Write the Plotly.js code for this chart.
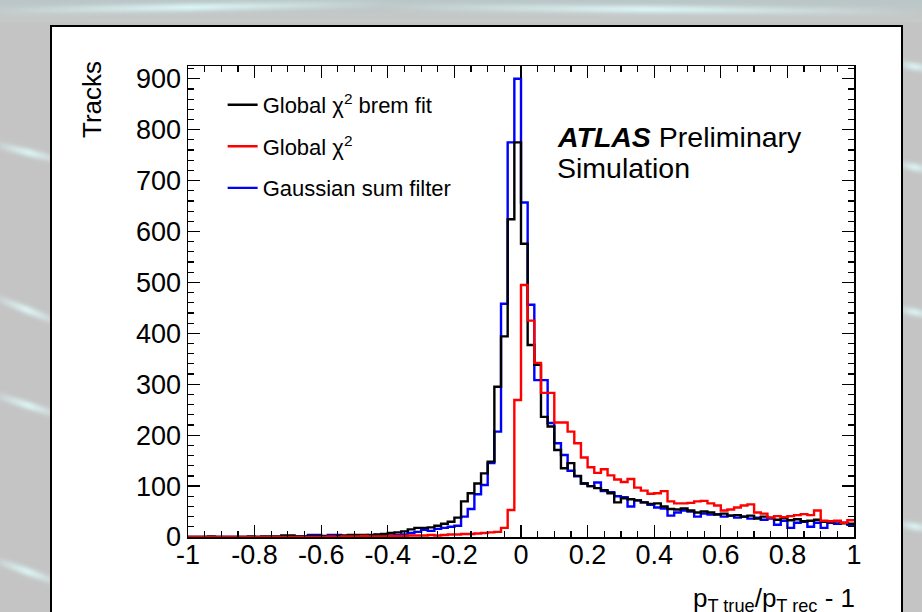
<!DOCTYPE html>
<html>
<head>
<meta charset="utf-8">
<script src="https://cdn.plot.ly/plotly-3.0.1.min.js"></script>
<style>
  html, body { margin:0; padding:0; width:922px; height:612px; overflow:hidden; background:#c4c4c4; }
  #bg { position:absolute; left:0; top:0; width:922px; height:612px; overflow:hidden; }
  .streak { position:absolute; height:6px; background:linear-gradient(90deg, rgba(220,255,255,0), rgba(225,255,255,0.95), rgba(220,255,255,0)); filter:blur(2px); transform-origin:left center; }
  #frame { position:absolute; left:50px; top:25px; width:849px; height:600px; background:#fff; border:2px solid #000; }
  #chart { position:absolute; left:0; top:0; width:922px; height:612px; }
</style>
</head>
<body>
<div id="bg">
  <div style="position:absolute;left:0;top:0;width:922px;height:22px;background:linear-gradient(180deg,#b9c6c7,#c8c8c8);"></div>
  <div class="streak" style="left:-20px;top:8px;width:420px;transform:rotate(-1deg);"></div>
  <div class="streak" style="left:380px;top:4px;width:540px;transform:rotate(0.5deg);"></div>
  <div class="streak" style="left:-10px;top:140px;width:80px;transform:rotate(14deg);"></div>
  <div class="streak" style="left:-10px;top:292px;width:80px;transform:rotate(22deg);"></div>
  <div class="streak" style="left:-10px;top:390px;width:80px;transform:rotate(18deg);"></div>
  <div class="streak" style="left:-10px;top:555px;width:80px;transform:rotate(20deg);"></div>
  <div class="streak" style="left:895px;top:60px;width:40px;transform:rotate(10deg);"></div>
  <div class="streak" style="left:895px;top:160px;width:40px;transform:rotate(12deg);"></div>
  <div class="streak" style="left:895px;top:305px;width:40px;transform:rotate(12deg);"></div>
  <div class="streak" style="left:895px;top:520px;width:40px;transform:rotate(10deg);"></div>
</div>
<div id="frame"></div>
<div id="chart"></div>
<script>
// Histogram binning: 100 bins from -1 to 1
const xMin = -1, xMax = 1, nBins = 100;

// Global chi2 brem fit (black)
const bremFit = [
  0,0,0,1,0,0,0,0,0,1,
  0,1,1,1,3,3,1,1,2,2,
  2,2,2,3,4,4,4,3,5,6,
  8,9,11,15,18,18,19,22,26,30,
  38,70,86,105,125,148,295,394,624,775,
  576,377,338,236,217,171,135,145,120,105,
  100,96,92,86,68,76,74,72,68,65,
  66,60,55,54,56,52,48,50,48,44,
  46,42,43,40,42,36,40,38,34,37,
  33,35,31,32,34,30,29,31,27,26
];

// Global chi2 (red)
const globalChi2 = [
  0,0,0,0,0,0,0,0,0,0,
  0,0,0,0,0,0,0,0,0,0,
  0,1,0,1,1,1,2,1,1,1,
  2,2,2,3,3,3,4,3,4,5,
  5,6,6,7,8,9,10,18,53,269,
  495,425,342,283,283,225,225,207,184,156,
  137,126,133,121,113,108,114,97,91,85,
  86,90,70,66,66,67,70,71,66,62,
  52,54,58,62,64,48,46,38,41,39,
  41,43,45,43,52,32,31,32,28,33
];

// Gaussian sum filter (blue)
const gsf = [
  0,0,0,0,0,0,0,0,0,0,
  0,0,0,0,1,0,1,1,4,4,
  1,4,4,1,1,2,1,4,4,2,
  3,4,5,8,10,14,12,16,18,20,
  22,40,55,84,102,145,207,458,775,900,
  657,456,308,308,224,184,161,130,119,105,
  100,107,90,88,80,78,60,72,68,63,
  58,56,42,48,52,50,40,46,44,45,
  40,42,38,40,36,38,34,36,24,32,
  18,28,30,20,28,18,28,26,28,24
];

const seriesNames = ['Global &#967;<sup>2</sup> brem fit', 'Global &#967;<sup>2</sup>', 'Gaussian sum filter'];
const xTickVals = [-1,-0.8,-0.6,-0.4,-0.2,0,0.2,0.4,0.6,0.8,1];
const xTickText = ['-1','-0.8','-0.6','-0.4','-0.2','0','0.2','0.4','0.6','0.8','1'];

// Bin edges for step drawing
const binWidth = (xMax - xMin) / nBins;
const edges = [];
for (let i = 0; i <= nBins; i++) edges.push(+(xMin + i * binWidth).toFixed(4));
function stepY(vals) { return vals.concat([vals[vals.length - 1]]); }

const FONT = 'Liberation Sans, Arial, Helvetica, sans-serif';

function stepTrace(vals, name, color, rank, group) {
  return {
    type: 'scatter', mode: 'lines', x: edges, y: stepY(vals), name: name,
    line: { shape: 'hv', color: color, width: 2.4 },
    legendrank: rank, legendgroup: group, hoverinfo: 'skip'
  };
}

const data = [
  stepTrace(gsf, seriesNames[2], '#0000ff', 3, 'c'),
  stepTrace(bremFit, seriesNames[0], '#000000', 1, 'a'),
  stepTrace(globalChi2, seriesNames[1], '#ff0000', 2, 'b')
];

const axisCommon = {
  showline: true, linecolor: '#000', linewidth: 1.5, mirror: 'ticks',
  ticks: 'inside', ticklen: 12, tickwidth: 1.3, tickcolor: '#000',
  showgrid: false, zeroline: false,
  tickfont: { family: FONT, size: 27, color: '#000' }
};

const layout = {
  width: 922, height: 612,
  margin: { l: 188, r: 68, t: 66, b: 75 },
  paper_bgcolor: 'rgba(0,0,0,0)', plot_bgcolor: 'rgba(0,0,0,0)',
  showlegend: true,
  legend: {
    x: 0.052, y: 0.962, xanchor: 'left', yanchor: 'top',
    bgcolor: 'rgba(0,0,0,0)', borderwidth: 0,
    font: { family: FONT, size: 22, color: '#000' },
    tracegroupgap: 10, traceorder: 'grouped'
  },
  xaxis: Object.assign({}, axisCommon, {
    range: [xMin, xMax], tickmode: 'array', tickvals: xTickVals, ticktext: xTickText,
    ticklabelstandoff: -7,
    minor: { dtick: 0.05, tick0: -1, ticks: 'inside', ticklen: 6, tickwidth: 1.2, tickcolor: '#000' }
  }),
  yaxis: Object.assign({}, axisCommon, {
    range: [0, 925], tickmode: 'linear', tick0: 0, dtick: 100,
    minor: { dtick: 20, tick0: 0, ticks: 'inside', ticklen: 6, tickwidth: 1.2, tickcolor: '#000' }
  }),
  annotations: [
    { text: 'Tracks', xref: 'paper', yref: 'paper', x: -0.144, y: 0.928, textangle: -90,
      xanchor: 'center', yanchor: 'middle', showarrow: false, font: { family: FONT, size: 26, color: '#000' } },
    { text: '<b><i>ATLAS</i></b> Preliminary', xref: 'paper', yref: 'paper', x: 0.551, y: 0.849,
      xanchor: 'left', yanchor: 'middle', showarrow: false, font: { family: FONT, size: 28.5, color: '#000' } },
    { text: 'Simulation', xref: 'paper', yref: 'paper', x: 0.551, y: 0.783,
      xanchor: 'left', yanchor: 'middle', showarrow: false, font: { family: FONT, size: 28.5, color: '#000' } },
    { text: 'p<sub>T true</sub>/p<sub>T rec</sub> - 1', xref: 'paper', yref: 'paper', x: 1.004, y: -0.094,
      xanchor: 'right', yanchor: 'top', showarrow: false, font: { family: FONT, size: 26, color: '#000' } }
  ]
};

Plotly.newPlot('chart', data, layout, { displayModeBar: false, staticPlot: true });
</script>
</body>
</html>
